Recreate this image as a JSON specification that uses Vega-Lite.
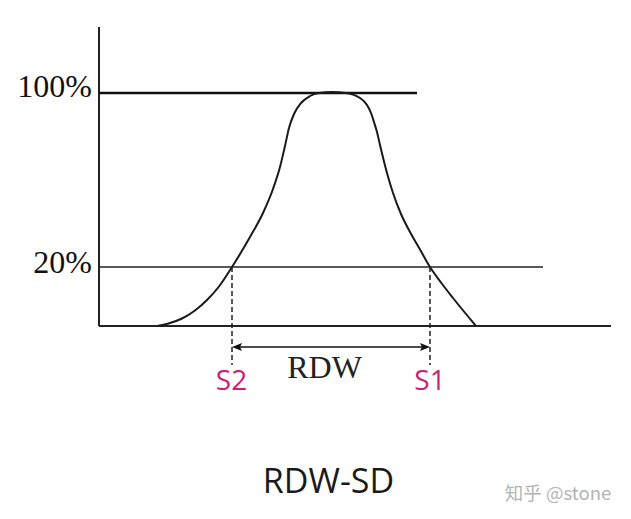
{
  "$schema": "https://vega.github.io/schema/vega-lite/v6.json",
  "width": 631,
  "height": 519,
  "padding": 0,
  "autosize": {"type": "none"},
  "background": "white",
  "config": {"view": {"stroke": null}},
  "resolve": {"scale": {"x": "shared", "y": "shared"}},
  "layer": [
    {
      "data": {"values": [
        {"x": 0, "x2": 0, "y": 0, "y2": 299},
        {"x": 0, "x2": 512, "y": 0, "y2": 0}
      ]},
      "mark": {"type": "rule", "color": "#222222", "strokeWidth": 2},
      "encoding": {
        "x": {"field": "x", "type": "quantitative", "scale": {"domain": [-99, 532], "nice": false, "zero": false}, "axis": null},
        "x2": {"field": "x2"},
        "y": {"field": "y", "type": "quantitative", "scale": {"domain": [-193, 326], "nice": false, "zero": false}, "axis": null},
        "y2": {"field": "y2"}
      }
    },
    {
      "data": {"values": [{"x": 0, "x2": 318, "y": 233}]},
      "mark": {"type": "rule", "color": "#111111", "strokeWidth": 2.5},
      "encoding": {
        "x": {"field": "x", "type": "quantitative"},
        "x2": {"field": "x2"},
        "y": {"field": "y", "type": "quantitative"}
      }
    },
    {
      "data": {"values": [{"x": 0, "x2": 444, "y": 59}]},
      "mark": {"type": "rule", "color": "#222222", "strokeWidth": 1.5},
      "encoding": {
        "x": {"field": "x", "type": "quantitative"},
        "x2": {"field": "x2"},
        "y": {"field": "y", "type": "quantitative"}
      }
    },
    {
      "data": {"values": [
        {"x": 58, "y": 0}, {"x": 71, "y": 3}, {"x": 83, "y": 7.5}, {"x": 96, "y": 15.5},
        {"x": 108, "y": 26}, {"x": 120, "y": 39.5}, {"x": 133, "y": 59},
        {"x": 151, "y": 89}, {"x": 164, "y": 113}, {"x": 174, "y": 137}, {"x": 181, "y": 159},
        {"x": 186, "y": 180}, {"x": 190, "y": 198}, {"x": 195, "y": 212}, {"x": 202, "y": 223},
        {"x": 211, "y": 230}, {"x": 220, "y": 233}, {"x": 233, "y": 234}, {"x": 247, "y": 233},
        {"x": 261, "y": 228}, {"x": 268, "y": 221}, {"x": 272, "y": 213}, {"x": 275, "y": 204},
        {"x": 278, "y": 194}, {"x": 281, "y": 181}, {"x": 288, "y": 153}, {"x": 294, "y": 133},
        {"x": 302, "y": 112}, {"x": 311, "y": 94}, {"x": 321, "y": 76.5}, {"x": 331, "y": 59},
        {"x": 342, "y": 43.5}, {"x": 354, "y": 28}, {"x": 377, "y": 0}
      ]},
      "mark": {"type": "line", "color": "#1a1a1a", "strokeWidth": 2, "interpolate": "monotone"},
      "encoding": {
        "x": {"field": "x", "type": "quantitative"},
        "y": {"field": "y", "type": "quantitative"}
      }
    },
    {
      "data": {"values": [
        {"x": 133, "y": 59, "y2": -39},
        {"x": 331, "y": 59, "y2": -39}
      ]},
      "mark": {"type": "rule", "color": "#222222", "strokeWidth": 1.5, "strokeDash": [5, 3]},
      "encoding": {
        "x": {"field": "x", "type": "quantitative"},
        "y": {"field": "y", "type": "quantitative"},
        "y2": {"field": "y2"}
      }
    },
    {
      "data": {"values": [{"x": 136, "x2": 328, "y": -21}]},
      "mark": {"type": "rule", "color": "#111111", "strokeWidth": 1.5},
      "encoding": {
        "x": {"field": "x", "type": "quantitative"},
        "x2": {"field": "x2"},
        "y": {"field": "y", "type": "quantitative"}
      }
    },
    {
      "data": {"values": [{"x": 138, "y": -21}]},
      "mark": {"type": "point", "filled": true, "color": "#111111", "opacity": 1, "size": 100, "shape": "M-1,0 L1,-0.8 L0.6,0 L1,0.8 Z"},
      "encoding": {
        "x": {"field": "x", "type": "quantitative"},
        "y": {"field": "y", "type": "quantitative"}
      }
    },
    {
      "data": {"values": [{"x": 326, "y": -21}]},
      "mark": {"type": "point", "filled": true, "color": "#111111", "opacity": 1, "size": 100, "shape": "M1,0 L-1,-0.8 L-0.6,0 L-1,0.8 Z"},
      "encoding": {
        "x": {"field": "x", "type": "quantitative"},
        "y": {"field": "y", "type": "quantitative"}
      }
    },
    {
      "data": {"values": [
        {"x": -7, "y": 229, "label": "100%"},
        {"x": -7, "y": 53, "label": "20%"}
      ]},
      "mark": {"type": "text", "font": "Liberation Serif", "fontSize": 32, "align": "right", "baseline": "alphabetic", "color": "#111111"},
      "encoding": {
        "x": {"field": "x", "type": "quantitative"},
        "y": {"field": "y", "type": "quantitative"},
        "text": {"field": "label"}
      }
    },
    {
      "data": {"values": [{"x": 225.5, "y": -52, "label": "RDW"}]},
      "mark": {"type": "text", "font": "Liberation Serif", "fontSize": 32, "align": "center", "baseline": "alphabetic", "color": "#222222"},
      "encoding": {
        "x": {"field": "x", "type": "quantitative"},
        "y": {"field": "y", "type": "quantitative"},
        "text": {"field": "label"}
      }
    },
    {
      "data": {"values": [
        {"x": 132.5, "y": -64, "label": "S2"},
        {"x": 331, "y": -64, "label": "S1"}
      ]},
      "mark": {"type": "text", "font": "Open Sans", "fontSize": 28, "align": "center", "baseline": "alphabetic", "color": "#cf1c78"},
      "encoding": {
        "x": {"field": "x", "type": "quantitative"},
        "y": {"field": "y", "type": "quantitative"},
        "text": {"field": "label"}
      }
    },
    {
      "data": {"values": [{"x": 229.5, "y": -167, "label": "RDW-SD"}]},
      "mark": {"type": "text", "font": "Open Sans", "fontSize": 34, "align": "center", "baseline": "alphabetic", "color": "#1a1a1a"},
      "encoding": {
        "x": {"field": "x", "type": "quantitative"},
        "y": {"field": "y", "type": "quantitative"},
        "text": {"field": "label"}
      }
    },
    {
      "data": {"values": [{"x": 459, "y": -174, "label": "知乎 @stone"}]},
      "mark": {"type": "text", "font": "Noto Sans CJK SC", "fontSize": 18.5, "align": "center", "baseline": "alphabetic", "color": "#b4b4b4"},
      "encoding": {
        "x": {"field": "x", "type": "quantitative"},
        "y": {"field": "y", "type": "quantitative"},
        "text": {"field": "label"}
      }
    }
  ]
}
